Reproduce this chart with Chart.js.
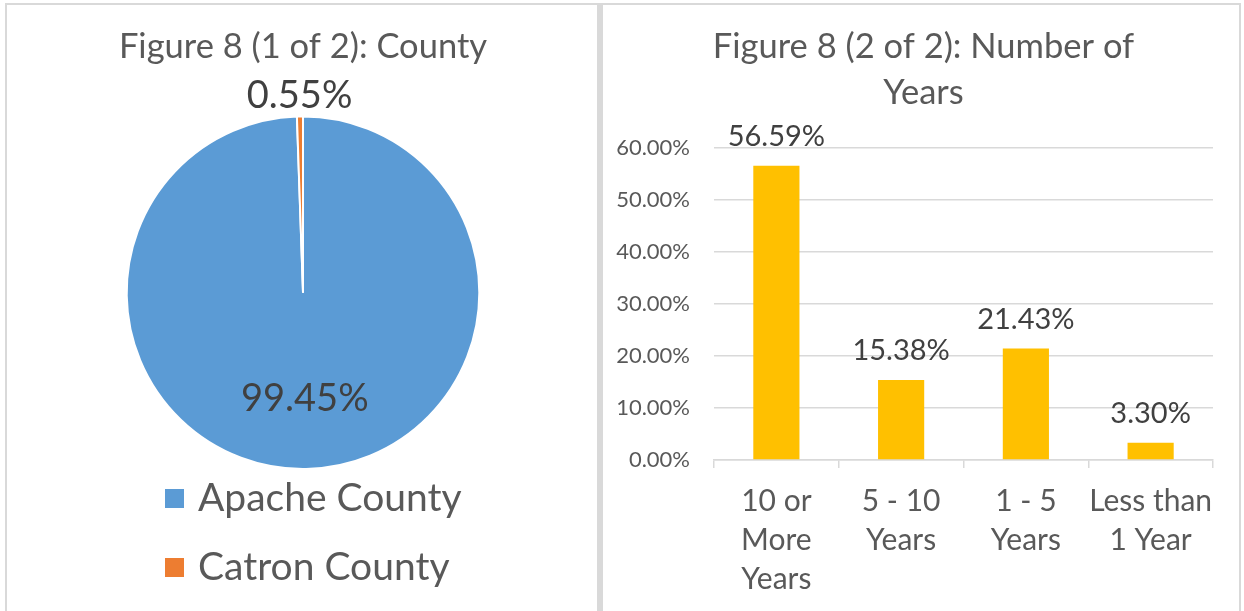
<!DOCTYPE html>
<html>
<head>
<meta charset="utf-8">
<script src="https://cdn.jsdelivr.net/npm/chart.js@4.4.1/dist/chart.umd.min.js"></script>
<style>
  html, body { margin: 0; padding: 0; background: #fff; }
  body { width: 1244px; height: 611px; position: relative; overflow: hidden; }
  #frame { position: absolute; left: 5px; top: 3px; width: 1232px; height: 640px; border: 2px solid #d9d9d9; }
  #divider { position: absolute; left: 597px; top: 3px; width: 6px; height: 640px; background: #d9d9d9; }
  #countyChart { position: absolute; left: 7px; top: 5px; }
  #yearsChart { position: absolute; left: 603px; top: 5px; }
</style>
</head>
<body>
<div id="frame"></div>
<div id="divider"></div>
<canvas id="countyChart" width="590" height="606"></canvas>
<canvas id="yearsChart" width="641" height="606"></canvas>
<script>
const countyNames = ['Apache County', 'Catron County'];
const countyShares = [99.45, 0.55];
const countyColors = ['#5B9BD5', '#ED7D31'];

const yearCategories = [['10 or', 'More', 'Years'], ['5 - 10', 'Years'], ['1 - 5', 'Years'], ['Less than', '1 Year']];
const yearShares = [56.59, 15.38, 21.43, 3.30];
const yearTicks = [0, 10, 20, 30, 40, 50, 60];

const family = 'Lato, "Open Sans", sans-serif';
const textGrey = '#595959';
const labelGrey = '#404040';
const gridGrey = '#d9d9d9';

// percent labels on the pie: big slice inside, tiny slice just outside
const pieLabels = {
  id: 'pieLabels',
  afterDatasetsDraw(chart) {
    const ctx = chart.ctx;
    ctx.save();
    ctx.font = '38px ' + family;
    ctx.fillStyle = labelGrey;
    ctx.textAlign = 'center';
    ctx.textBaseline = 'middle';
    chart.getDatasetMeta(0).data.forEach((arc, i) => {
      const mid = (arc.startAngle + arc.endAngle) / 2;
      const dist = countyShares[i] < 5 ? arc.outerRadius + 21 : arc.outerRadius * 0.6;
      ctx.fillText(countyShares[i].toFixed(2) + '%', arc.x + Math.cos(mid) * dist, arc.y + Math.sin(mid) * dist);
    });
    ctx.restore();
  }
};

// stacked legend under the pie
const countyLegend = {
  id: 'countyLegend',
  afterDraw(chart) {
    const { ctx, chartArea } = chart;
    const left = (chartArea.left + chartArea.right) / 2 - 138;
    ctx.save();
    ctx.font = '39px ' + family;
    ctx.textBaseline = 'middle';
    chart.data.labels.forEach((name, i) => {
      const y = chartArea.bottom + 28 + i * 69;
      ctx.fillStyle = countyColors[i];
      ctx.fillRect(left, y - 9, 19, 19);
      ctx.fillStyle = textGrey;
      ctx.fillText(name, left + 33, y);
    });
    ctx.restore();
  }
};

const barLabels = {
  id: 'barLabels',
  afterDatasetsDraw(chart) {
    const ctx = chart.ctx;
    ctx.save();
    ctx.font = '29px ' + family;
    ctx.fillStyle = labelGrey;
    ctx.textAlign = 'center';
    ctx.textBaseline = 'middle';
    chart.getDatasetMeta(0).data.forEach((bar, i) => {
      ctx.fillText(yearShares[i].toFixed(2) + '%', bar.x, bar.y - 29);
    });
    ctx.restore();
  }
};

new Chart(document.getElementById('countyChart'), {
  type: 'pie',
  data: {
    labels: countyNames,
    datasets: [{ data: countyShares, backgroundColor: countyColors, borderColor: '#fff', borderWidth: 2 }]
  },
  options: {
    responsive: false,
    animation: false,
    layout: { padding: { left: 2, right: 0, top: 0, bottom: 141 } },
    plugins: {
      legend: { display: false },
      tooltip: { enabled: false },
      title: {
        display: true,
        text: 'Figure 8 (1 of 2): County',
        color: textGrey,
        font: { family, size: 34.5, weight: 'normal', lineHeight: 1.2 },
        padding: { top: 21, bottom: 48 }
      }
    }
  },
  plugins: [pieLabels, countyLegend]
});

new Chart(document.getElementById('yearsChart'), {
  type: 'bar',
  data: {
    labels: yearCategories,
    datasets: [{ data: yearShares, backgroundColor: '#FFC000', categoryPercentage: 1, barPercentage: 0.37 }]
  },
  options: {
    responsive: false,
    animation: false,
    layout: { padding: { left: 0, right: 0, top: 0, bottom: 0 } },
    plugins: {
      legend: { display: false },
      tooltip: { enabled: false },
      title: {
        display: true,
        text: ['Figure 8 (2 of 2): Number of', 'Years'],
        color: textGrey,
        font: { family, size: 34.5, weight: 'normal', lineHeight: 46 / 34.5 },
        padding: { top: 19, bottom: 32 }
      }
    },
    scales: {
      x: {
        grid: { offset: true, drawOnChartArea: false, drawTicks: true, tickLength: 8, color: gridGrey, lineWidth: 1.5 },
        border: { color: gridGrey, width: 1.5 },
        ticks: { color: textGrey, font: { family, size: 30, lineHeight: 1.3 }, padding: 14, maxRotation: 0, autoSkip: false },
        afterFit: s => { s.height = 151; }
      },
      y: {
        min: 0,
        max: 60,
        afterBuildTicks: s => { s.ticks = yearTicks.map(v => ({ value: v })); },
        grid: { color: gridGrey, lineWidth: 1.5, drawTicks: false },
        border: { display: false },
        ticks: { color: textGrey, font: { family, size: 22 }, padding: 24, callback: v => v.toFixed(2) + '%' },
        afterFit: s => { s.width = 111; }
      },
      // empty right margin so the title centres where the original sits
      pad: {
        type: 'linear',
        position: 'right',
        grid: { display: false },
        border: { display: false },
        ticks: { display: false },
        afterFit: s => { s.width = 31; }
      }
    }
  },
  plugins: [barLabels]
});
</script>
</body>
</html>
